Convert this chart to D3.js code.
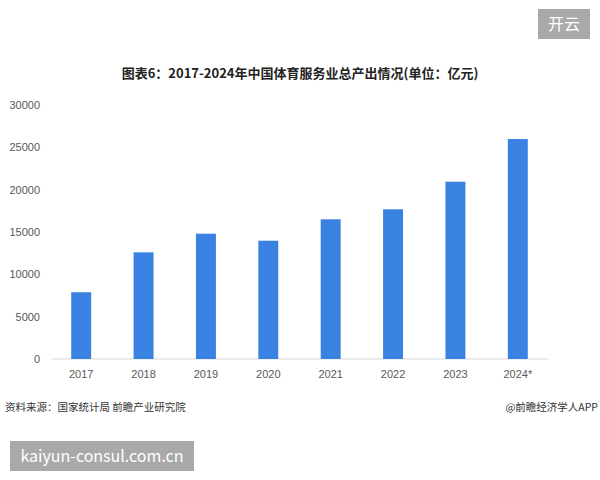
<!DOCTYPE html>
<html>
<head>
<meta charset="utf-8">
<script src="https://cdn.jsdelivr.net/npm/d3@7"></script>
<style>
  body { margin: 0; background: #fff; }
  svg { font-family: "Microsoft YaHei", "Noto Sans CJK SC", sans-serif; }
  .axis text { fill: #595959; font-size: 11px; }
  .axis path, .axis line { display: none; }
</style>
</head>
<body>
<div id="chart"></div>
<script>
// data
const years = ['2017', '2018', '2019', '2020', '2021', '2022', '2023', '2024*'];
const output = [7880, 12600, 14800, 13970, 16500, 17680, 20940, 25980];
const yTicks = [0, 5000, 10000, 15000, 20000, 25000, 30000];

const width = 600;
const height = 480;

const svg = d3.select('#chart')
  .append('svg')
  .attr('width', width)
  .attr('height', height);

// scales
const x = d3.scaleBand()
  .domain(years)
  .range([50, 549])
  .paddingInner(0.68)
  .paddingOuter(0.34);

const y = d3.scaleLinear()
  .domain([0, 30000])
  .range([359, 105]);

// title
svg.append('text')
  .attr('x', 300)
  .attr('y', 78)
  .attr('text-anchor', 'middle')
  .attr('font-size', 13)
  .attr('font-weight', 'bold')
  .attr('fill', '#222')
  .text('图表6：2017-2024年中国体育服务业总产出情况(单位：亿元)');

// y axis labels
svg.append('g')
  .attr('class', 'y axis')
  .attr('transform', 'translate(40, 0)')
  .call(d3.axisLeft(y).tickValues(yTicks).tickFormat(d3.format('d')).tickSize(0).tickPadding(0));

// baseline
svg.append('line')
  .attr('x1', 52)
  .attr('x2', 548)
  .attr('y1', y(0))
  .attr('y2', y(0))
  .attr('stroke', '#d9d9d9')
  .attr('stroke-width', 1);

// bars
svg.selectAll('.bar')
  .data(years)
  .enter()
  .append('rect')
  .attr('class', 'bar')
  .attr('x', d => x(d))
  .attr('width', x.bandwidth())
  .attr('y', (d, i) => y(output[i]))
  .attr('height', (d, i) => y(0) - y(output[i]))
  .attr('fill', '#3a82e2');

// x axis labels
svg.append('g')
  .attr('class', 'x axis')
  .attr('transform', `translate(0, ${y(0)})`)
  .call(d3.axisBottom(x).tickSize(0).tickPadding(11));

// footer
svg.append('text')
  .attr('x', 5)
  .attr('y', 411)
  .attr('font-size', 10.5)
  .attr('fill', '#333')
  .text('资料来源：国家统计局 前瞻产业研究院');

svg.append('text')
  .attr('x', 598)
  .attr('y', 411)
  .attr('text-anchor', 'end')
  .attr('font-size', 10.5)
  .attr('fill', '#333')
  .text('@前瞻经济学人APP');

// overlay tags
svg.append('rect')
  .attr('x', 538)
  .attr('y', 9)
  .attr('width', 52)
  .attr('height', 30)
  .attr('fill', '#a9a9a9');

svg.append('text')
  .attr('x', 564)
  .attr('y', 30)
  .attr('text-anchor', 'middle')
  .attr('font-size', 16)
  .attr('fill', '#fff')
  .text('开云');

svg.append('rect')
  .attr('x', 10)
  .attr('y', 441)
  .attr('width', 184)
  .attr('height', 30)
  .attr('fill', '#a9a9a9');

svg.append('text')
  .attr('x', 102)
  .attr('y', 462)
  .attr('text-anchor', 'middle')
  .attr('font-size', 16)
  .attr('fill', '#fff')
  .text('kaiyun-consul.com.cn');
</script>
</body>
</html>
